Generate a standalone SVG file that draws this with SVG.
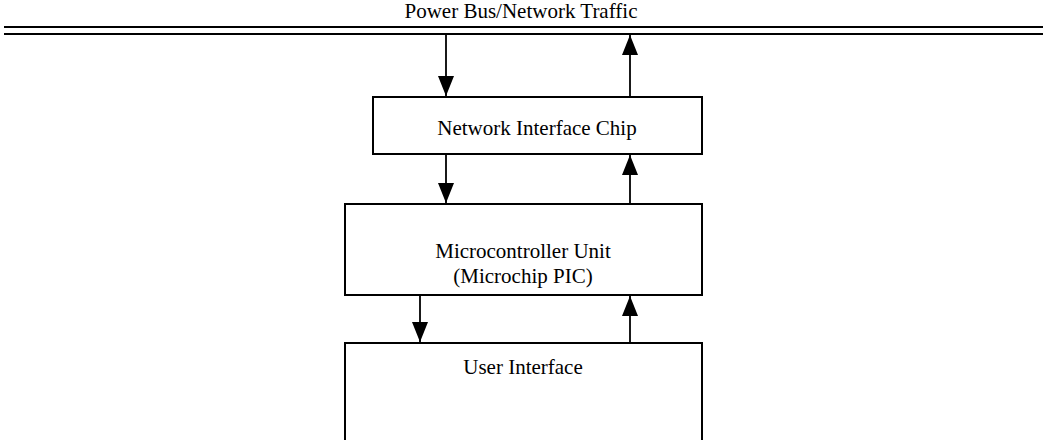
<svg xmlns="http://www.w3.org/2000/svg" width="1043" height="440" viewBox="0 0 1043 440">
<style>
.box{fill:#fff;stroke:#000;stroke-width:2}
.lbl{font-family:"Liberation Serif","Times New Roman",serif;font-size:21px;fill:#000;text-anchor:middle}
.bus{stroke:#000;stroke-width:2}
.conn{stroke:#000;stroke-width:1.8;fill:none}
</style>
<defs>
<marker id="ah" markerWidth="20" markerHeight="16" refX="20" refY="8" orient="auto" markerUnits="userSpaceOnUse">
<path d="M0,0 L20,8 L0,16 Z" fill="#000"/>
</marker>
</defs>
<rect width="1043" height="440" fill="#fff"/>
<g id="bus">
<text class="lbl" x="521" y="18" font-size="20">Power Bus/Network Traffic</text>
<line class="bus" x1="4" y1="27" x2="1043" y2="27"/>
<line class="bus" x1="4" y1="34" x2="1043" y2="34"/>
</g>
<g id="nic">
<rect class="box" x="373" y="97" width="329" height="57"/>
<text class="lbl" x="537" y="135">Network Interface Chip</text>
</g>
<g id="mcu">
<rect class="box" x="345" y="204" width="357" height="91"/>
<text class="lbl" x="523" y="258">Microcontroller Unit</text>
<text class="lbl" x="523" y="283">(Microchip PIC)</text>
</g>
<g id="ui">
<rect class="box" x="345" y="343" width="357" height="110"/>
<text class="lbl" x="523" y="374">User Interface</text>
</g>
<g id="connectors">
<line class="conn" x1="446" y1="35" x2="446" y2="96" marker-end="url(#ah)"/>
<line class="conn" x1="630" y1="96" x2="630" y2="35" marker-end="url(#ah)"/>
<line class="conn" x1="446" y1="155" x2="446" y2="203" marker-end="url(#ah)"/>
<line class="conn" x1="630" y1="203" x2="630" y2="155" marker-end="url(#ah)"/>
<line class="conn" x1="420" y1="296" x2="420" y2="342" marker-end="url(#ah)"/>
<line class="conn" x1="630" y1="342" x2="630" y2="296" marker-end="url(#ah)"/>
</g>
</svg>
